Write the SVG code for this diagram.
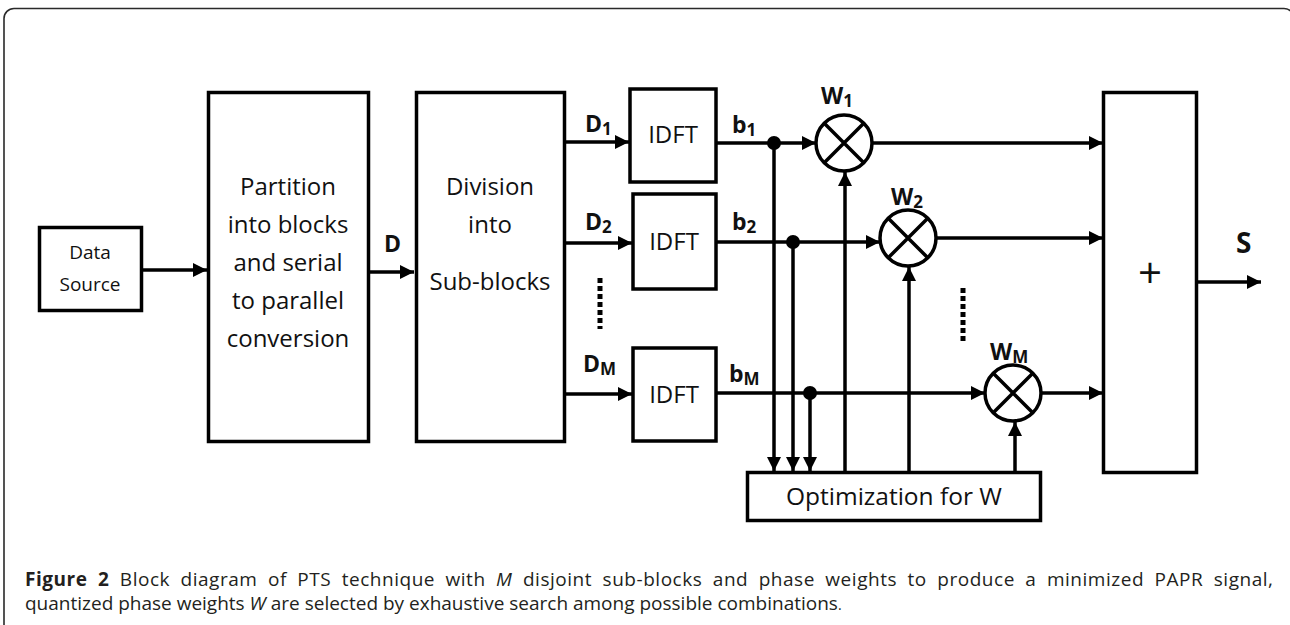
<svg xmlns="http://www.w3.org/2000/svg" width="1290" height="625" viewBox="0 0 1290 625">
<defs>
<marker id="ah" markerUnits="userSpaceOnUse" markerWidth="15" markerHeight="15" refX="14" refY="7.5" orient="auto">
<path d="M0,0.5 L14,7.5 L0,14.5 z" fill="#000"/>
</marker>
<style>
.box{fill:#fff;stroke:#000;stroke-width:3.5}
.ln{fill:none;stroke:#000;stroke-width:3.5}
.arr{fill:none;stroke:#000;stroke-width:3.5;marker-end:url(#ah)}
.t{font-family:"Open Sans","Liberation Sans",sans-serif;fill:#111;text-anchor:middle}
.big{font-size:24px}
.lbl{font-family:"Open Sans","Liberation Sans",sans-serif;font-weight:bold;font-size:23px;fill:#111}
.sub{font-size:17px}
.cap{font-family:"Open Sans","Noto Sans","Liberation Sans",sans-serif;font-size:19px;fill:#231f20}
.dot{fill:#000}
.dots{fill:none;stroke:#000;stroke-width:5;stroke-dasharray:5 3}
</style>
</defs>
<rect x="4" y="8.5" width="1290" height="800" rx="10" fill="#fff" stroke="#2a2a2a" stroke-width="1.6"/>

<g id="connectors">
<line class="arr" x1="143" y1="270" x2="207" y2="270"/>
<line class="arr" x1="370" y1="272" x2="414" y2="272"/>
<line class="arr" x1="566" y1="142" x2="629" y2="142"/>
<line class="arr" x1="566" y1="243" x2="632" y2="243"/>
<line class="arr" x1="566" y1="394" x2="632" y2="394"/>
<line class="arr" x1="717" y1="143" x2="816" y2="143"/>
<line class="arr" x1="717" y1="242" x2="880" y2="242"/>
<line class="arr" x1="717" y1="393" x2="985" y2="393"/>
<line class="arr" x1="872" y1="143" x2="1103" y2="143"/>
<line class="arr" x1="936" y1="238" x2="1103" y2="238"/>
<line class="arr" x1="1041" y1="393" x2="1103" y2="393"/>
<line class="arr" x1="1197" y1="282" x2="1261" y2="282"/>
<line class="arr" x1="774" y1="143" x2="774" y2="471"/>
<line class="arr" x1="793" y1="242" x2="793" y2="471"/>
<line class="arr" x1="810" y1="393" x2="810" y2="471"/>
<line class="arr" x1="845" y1="472" x2="845" y2="172"/>
<line class="arr" x1="909" y1="472" x2="909" y2="267"/>
<line class="arr" x1="1015" y1="472" x2="1015" y2="422"/>
<circle class="dot" cx="774" cy="143" r="7"/>
<circle class="dot" cx="793" cy="242" r="7"/>
<circle class="dot" cx="810" cy="393" r="7"/>
<line class="dots" x1="600" y1="278" x2="600" y2="329"/>
<line class="dots" x1="963" y1="288" x2="963" y2="343"/>
</g>

<g id="data-source">
<rect class="box" x="39.5" y="227.5" width="102" height="83"/>
<text class="t" x="90" y="259" font-size="19">Data</text>
<text class="t" x="90" y="291" font-size="19">Source</text>
</g>

<g id="partition">
<rect class="box" x="208.5" y="92.5" width="160" height="349"/>
<text class="t big" x="288" y="195">Partition</text>
<text class="t big" x="288" y="233">into blocks</text>
<text class="t big" x="288" y="271">and serial</text>
<text class="t big" x="288" y="309">to parallel</text>
<text class="t big" x="288" y="347">conversion</text>
</g>
<text id="label-D" class="lbl" x="384" y="252">D</text>

<g id="division">
<rect class="box" x="416.5" y="92.5" width="148" height="349"/>
<text class="t big" x="490" y="195">Division</text>
<text class="t big" x="490" y="233">into</text>
<text class="t big" x="490" y="290">Sub-blocks</text>
</g>

<g id="labels-D">
<text class="lbl" x="585" y="132">D<tspan class="sub" dy="3">1</tspan></text>
<text class="lbl" x="585" y="230">D<tspan class="sub" dy="3">2</tspan></text>
<text class="lbl" x="583" y="372">D<tspan class="sub" dy="3">M</tspan></text>
</g>

<g id="idft1">
<rect class="box" x="630" y="89" width="86" height="93"/>
<text class="t big" x="673" y="143">IDFT</text>
</g>
<g id="idft2">
<rect class="box" x="633" y="194" width="83" height="95"/>
<text class="t big" x="674" y="250">IDFT</text>
</g>
<g id="idftM">
<rect class="box" x="633" y="348" width="83" height="93"/>
<text class="t big" x="674" y="403">IDFT</text>
</g>

<g id="labels-b">
<text class="lbl" x="732" y="133">b<tspan class="sub" dy="3">1</tspan></text>
<text class="lbl" x="732" y="230">b<tspan class="sub" dy="3">2</tspan></text>
<text class="lbl" x="729" y="382">b<tspan class="sub" dy="3">M</tspan></text>
</g>

<g id="mult1">
<circle class="box" cx="844" cy="143" r="28"/>
<path class="ln" d="M824,123 L864,163 M864,123 L824,163" stroke-width="3"/>
<text class="lbl" x="821" y="104">W<tspan class="sub" dy="3">1</tspan></text>
</g>
<g id="mult2">
<circle class="box" cx="908" cy="238" r="28"/>
<path class="ln" d="M888,218 L928,258 M928,218 L888,258" stroke-width="3"/>
<text class="lbl" x="891" y="205">W<tspan class="sub" dy="3">2</tspan></text>
</g>
<g id="multM">
<circle class="box" cx="1013" cy="393" r="28"/>
<path class="ln" d="M993,373 L1033,413 M1033,373 L993,413" stroke-width="3"/>
<text class="lbl" x="990" y="360">W<tspan class="sub" dy="3">M</tspan></text>
</g>

<g id="optimization">
<rect class="box" x="747.5" y="472.5" width="293" height="48"/>
<text class="t" x="894" y="505" font-size="24.5">Optimization for W</text>
</g>

<g id="sum">
<rect class="box" x="1103.5" y="92.5" width="93" height="380"/>
<text class="t" x="1150" y="288" style="font-size:42px">+</text>
</g>
<text id="label-S" class="lbl" x="1236" y="253" style="font-size:28px">S</text>

<g id="caption">
<text class="cap" x="25" y="586" word-spacing="5" textLength="1248" lengthAdjust="spacing"><tspan font-weight="bold">Figure 2</tspan> Block diagram of PTS technique with <tspan font-style="italic">M</tspan> disjoint sub-blocks and phase weights to produce a minimized PAPR signal,</text>
<text class="cap" x="25" y="610">quantized phase weights <tspan font-style="italic">W</tspan> are selected by exhaustive search among possible combinations<tspan font-size="14">.</tspan></text>
</g>
</svg>
